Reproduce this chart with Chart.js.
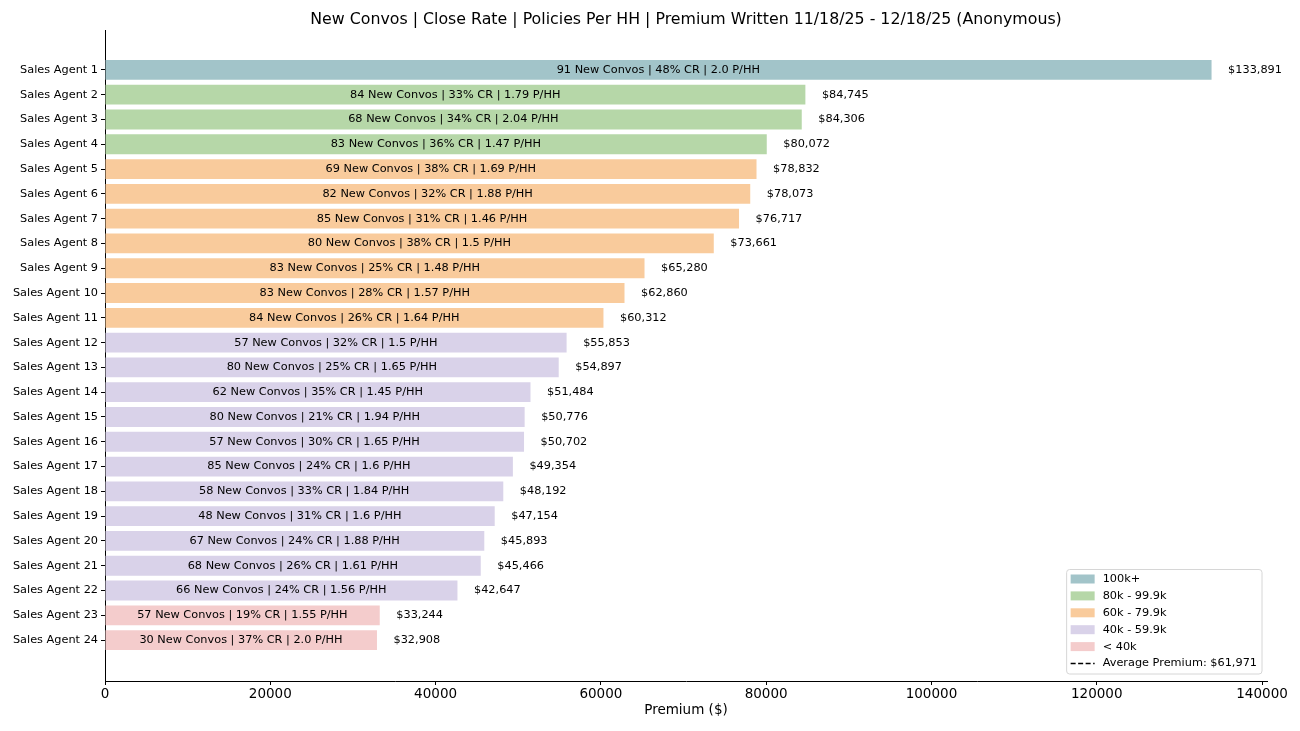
<!DOCTYPE html>
<html lang="en">
<head>
<meta charset="UTF-8">
<title>Premium Written</title>
<script src="https://cdn.jsdelivr.net/npm/chart.js"></script>
<style>
  html, body { margin: 0; padding: 0; background: #ffffff; }
  #wrap { width: 1300px; height: 731px; }
</style>
</head>
<body>
<div id="wrap"><canvas id="barChart" width="1300" height="731"></canvas></div>
<script>
// data
const agents = ['Sales Agent 1', 'Sales Agent 2', 'Sales Agent 3', 'Sales Agent 4', 'Sales Agent 5', 'Sales Agent 6',
  'Sales Agent 7', 'Sales Agent 8', 'Sales Agent 9', 'Sales Agent 10', 'Sales Agent 11', 'Sales Agent 12',
  'Sales Agent 13', 'Sales Agent 14', 'Sales Agent 15', 'Sales Agent 16', 'Sales Agent 17', 'Sales Agent 18',
  'Sales Agent 19', 'Sales Agent 20', 'Sales Agent 21', 'Sales Agent 22', 'Sales Agent 23', 'Sales Agent 24'];
const premium = [133891, 84745, 84306, 80072, 78832, 78073, 76717, 73661, 65280, 62860, 60312, 55853,
  54897, 51484, 50776, 50702, 49354, 48192, 47154, 45893, 45466, 42647, 33244, 32908];
const newConvos = [91, 84, 68, 83, 69, 82, 85, 80, 83, 83, 84, 57, 80, 62, 80, 57, 85, 58, 48, 67, 68, 66, 57, 30];
const closeRate = [48, 33, 34, 36, 38, 32, 31, 38, 25, 28, 26, 32, 25, 35, 21, 30, 24, 33, 31, 24, 26, 24, 19, 37];
const policiesPerHH = ['2.0', '1.79', '2.04', '1.47', '1.69', '1.88', '1.46', '1.5', '1.48', '1.57', '1.64', '1.5',
  '1.65', '1.45', '1.94', '1.65', '1.6', '1.84', '1.6', '1.88', '1.61', '1.56', '1.55', '2.0'];
const avgPremium = 61971;

// premium bins for the colours / legend
const binLabels = ['100k+', '80k - 99.9k', '60k - 79.9k', '40k - 59.9k', '< 40k'];
const binMins = [100000, 80000, 60000, 40000, 0];
const binColors = ['#a2c4c9', '#b6d7a8', '#f9cb9c', '#d9d2e9', '#f4cccc'];

const xTicks = [0, 20000, 40000, 60000, 80000, 100000, 120000, 140000];

const FONT = 'DejaVu Sans';
Chart.defaults.font.family = FONT;
Chart.defaults.color = '#000';

function binIndex(v) {
  for (let i = 0; i < binMins.length; i++) {
    if (v >= binMins[i]) return i;
  }
  return binMins.length - 1;
}
const barColors = premium.map(v => binColors[binIndex(v)]);
const money = v => '$' + v.toLocaleString('en-US');

// labels inside and after each bar
const barLabels = {
  id: 'barLabels',
  afterDatasetsDraw(chart) {
    const ctx = chart.ctx;
    const xs = chart.scales.x;
    const meta = chart.getDatasetMeta(0);
    ctx.save();
    ctx.font = '11.3px "' + FONT + '"';
    ctx.fillStyle = '#000';
    ctx.textBaseline = 'middle';
    meta.data.forEach((bar, i) => {
      ctx.textAlign = 'center';
      ctx.fillText(newConvos[i] + ' New Convos | ' + closeRate[i] + '% CR | ' + policiesPerHH[i] + ' P/HH',
        xs.getPixelForValue(premium[i] / 2), bar.y);
      ctx.textAlign = 'left';
      ctx.fillText(money(premium[i]), xs.getPixelForValue(premium[i] + 2000), bar.y);
    });
    ctx.restore();
  }
};

// legend box in the lower right of the plot
const cornerLegend = {
  id: 'cornerLegend',
  afterDraw(chart) {
    const ctx = chart.ctx;
    const area = chart.chartArea;
    const items = binLabels.map((l, i) => ({ text: l, color: binColors[i], dash: false }));
    items.push({ text: 'Average Premium: ' + money(avgPremium), color: '#000', dash: true });
    ctx.save();
    ctx.font = '11.3px "' + FONT + '"';
    const textW = Math.max(...items.map(it => ctx.measureText(it.text).width));
    const rowH = 16.9;
    const w = 4 + 24 + 8 + textW + 5;
    const h = 9 + rowH * (items.length - 1) + 11;
    const right = area.right - 5;
    const bottom = area.bottom - 7;
    const left = right - w;
    const top = bottom - h;
    ctx.beginPath();
    ctx.roundRect(left, top, w, h, 3);
    ctx.fillStyle = 'rgba(255,255,255,0.8)';
    ctx.fill();
    ctx.strokeStyle = '#d6d6d6';
    ctx.lineWidth = 1;
    ctx.stroke();
    ctx.textBaseline = 'middle';
    ctx.textAlign = 'left';
    items.forEach((it, i) => {
      const cy = top + 9.5 + rowH * i;
      if (it.dash) {
        ctx.beginPath();
        ctx.setLineDash([5, 2.5]);
        ctx.lineWidth = 1.6;
        ctx.strokeStyle = it.color;
        ctx.moveTo(left + 4, cy);
        ctx.lineTo(left + 28, cy);
        ctx.stroke();
        ctx.setLineDash([]);
      } else {
        ctx.fillStyle = it.color;
        ctx.fillRect(left + 4, cy - 4.5, 24, 9);
      }
      ctx.fillStyle = '#000';
      ctx.fillText(it.text, left + 36, cy);
    });
    ctx.restore();
  }
};

const ctx = document.getElementById('barChart').getContext('2d');
new Chart(ctx, {
  type: 'bar',
  data: {
    datasets: [{
      label: 'Premium',
      data: premium.map((v, i) => ({ x: v, y: i })),
      backgroundColor: barColors,
      borderWidth: 0,
      barPercentage: 0.8,
      categoryPercentage: 1
    }]
  },
  options: {
    indexAxis: 'y',
    responsive: false,
    animation: false,
    layout: { padding: { left: 0, right: 33, top: 0, bottom: 0 } },
    plugins: {
      legend: { display: false },
      tooltip: { enabled: false },
      title: {
        display: true,
        fullSize: false,
        text: 'New Convos | Close Rate | Policies Per HH | Premium Written 11/18/25 - 12/18/25 (Anonymous)',
        color: '#000',
        font: { size: 15.8, weight: 'normal' },
        padding: { top: 10, bottom: 2 }
      }
    },
    scales: {
      x: {
        type: 'linear',
        min: 0,
        max: 140600,
        afterBuildTicks: s => { s.ticks = xTicks.map(v => ({ value: v })); },
        afterFit: s => { s.height = 50; },
        ticks: { font: { size: 13.5 }, color: '#000', padding: 1, maxRotation: 0, callback: v => String(v) },
        grid: { drawOnChartArea: false, drawTicks: true, tickLength: 4, color: '#000' },
        border: { display: true, color: '#000', width: 1 },
        title: { display: true, text: 'Premium ($)', color: '#000', font: { size: 13.5 }, padding: { top: 0, bottom: 12 } }
      },
      y: {
        type: 'linear',
        reverse: true,
        offset: false,
        min: -1.57,
        max: 24.65,
        afterBuildTicks: s => { s.ticks = agents.map((_, i) => ({ value: i })); },
        afterFit: s => { s.width = 105; },
        ticks: { font: { size: 11.3 }, color: '#000', padding: 3, autoSkip: false, callback: v => agents[v] },
        grid: { offset: false, drawOnChartArea: false, drawTicks: true, tickLength: 4, color: '#000' },
        border: { display: true, color: '#000', width: 1 }
      }
    }
  },
  plugins: [barLabels, cornerLegend]
});
</script>
</body>
</html>
